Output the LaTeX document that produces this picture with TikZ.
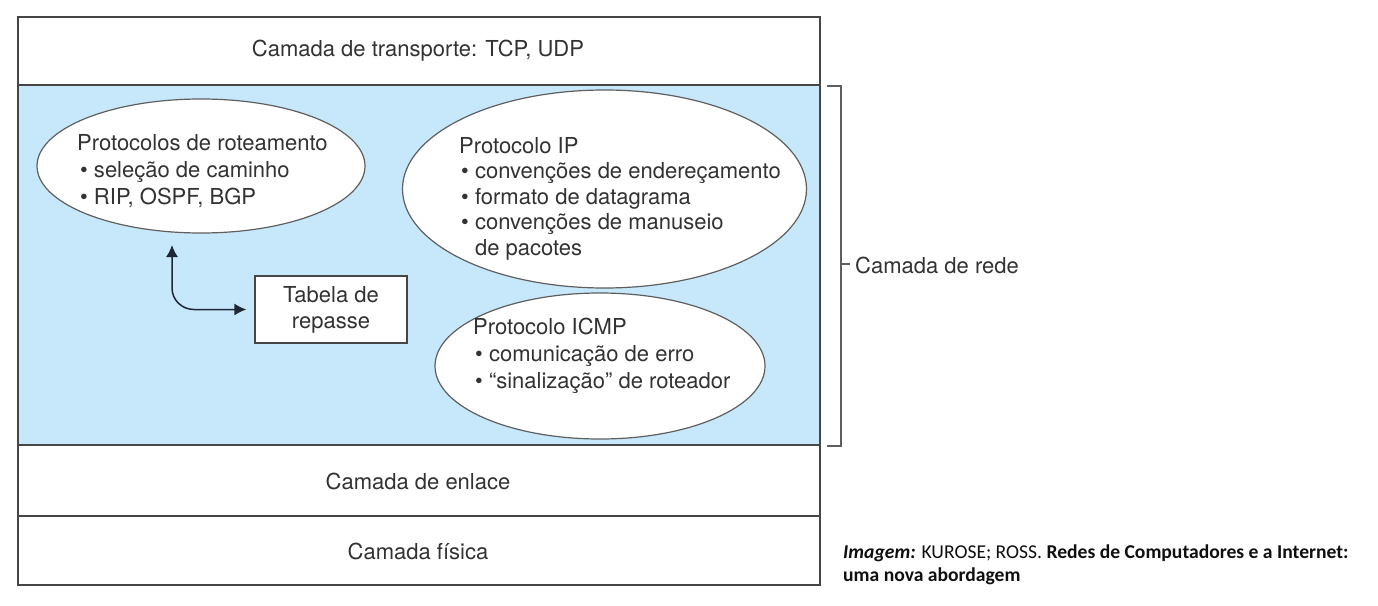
\documentclass[tikz,border=0pt]{standalone}
\usepackage{fontspec}
\setmainfont{TeX Gyre Heros}
\newfontfamily\citefont{Carlito}
\usetikzlibrary{shapes.geometric,arrows.meta}
\definecolor{netblue}{RGB}{198,232,250}
\definecolor{linegray}{RGB}{70,70,70}
\definecolor{ovalgray}{RGB}{95,95,95}
\definecolor{txt}{RGB}{50,50,50}
\definecolor{arrowc}{RGB}{30,40,55}
\definecolor{citec}{RGB}{15,15,15}
\begin{document}
\begin{tikzpicture}[x=1pt,y=-1pt,
  lbl/.style={inner sep=0pt, text=txt, font=\fontsize{22}{26}\selectfont},
  lineL/.style={lbl, anchor=base west},
  oval/.style={ellipse, draw=ovalgray, line width=1.2pt, fill=white, inner sep=0pt},
  frame/.style={draw=linegray, line width=1.5pt},
  brk/.style={draw=ovalgray, line width=1.2pt},
  conn/.style={draw=arrowc, line width=1.5pt, {Latex[length=12pt,width=12pt]}-{Latex[length=12pt,width=12pt]}},
  cite/.style={inner sep=0pt, text=citec, anchor=base west, font=\citefont\fontsize{19.6}{23}\selectfont}
]
\useasboundingbox (0,0) rectangle (1378,605);

% layers
\fill[netblue] (18,85) rectangle (820,445);
\draw[frame] (18,17) rectangle (820,585);
\draw[frame] (18,85) -- (820,85);
\draw[frame] (18,445) -- (820,445);
\draw[frame] (18,516) -- (820,516);

\node[lbl] (transp) at (418,51) {Camada de transporte: TCP, UDP};
\node[lbl] (enlace) at (418,481) {Camada de enlace};
\node[lbl] (fisica) at (418,551) {Camada física};

% ellipses
\node[oval, minimum width=328pt, minimum height=134pt] (rout) at (201,166) {};
\node[oval, minimum width=404pt, minimum height=198pt] (ip) at (604.5,189) {};
\node[oval, minimum width=330pt, minimum height=146pt] (icmp) at (600,366) {};

% routing text
\node[lineL] (r1) at (77,150) {Protocolos de roteamento};
\node[lineL] (r2) at (80,177) {\textbullet\ seleção de caminho};
\node[lineL] (r3) at (80,204) {\textbullet\ RIP, OSPF, BGP};

% IP text
\node[lineL] (i1) at (459,153) {Protocolo IP};
\node[lineL] (i2) at (461,178.5) {\textbullet\ convenções de endereçamento};
\node[lineL] (i3) at (461,204) {\textbullet\ formato de datagrama};
\node[lineL] (i4) at (461,229.5) {\textbullet\ convenções de manuseio};
\node[lineL] (i5) at (461,255) {\phantom{\textbullet\ }de pacotes};

% ICMP text
\node[lineL] (c1l) at (473,334) {Protocolo ICMP};
\node[lineL] (c2l) at (475,361) {\textbullet\ comunicação de erro};
\node[lineL] (c3l) at (475,388) {\textbullet\ “sinalização” de roteador};

% forwarding table
\node[lbl, draw=linegray, line width=1.3pt, fill=white, minimum width=152pt, minimum height=67pt, align=center] (tab) at (331,309.5) {Tabela de\\repasse};

% arrow
\coordinate (rtip) at (172,245);
\draw[conn] (rtip) -- (172,288) to[out=-90,in=180] (194,309.5) -- ([xshift=-8pt]tab.west);

% bracket
\draw[brk] (827,86) -- (841,86) -- (841,446) -- (827,446);
\coordinate (tick) at (841,264);
\node[lbl, anchor=west] (rede) at (855,265) {Camada de rede};
\draw[brk] (tick) -- (850,264);

% citation
\node[cite] (cit1) at (843,558) {\textbf{\textit{Imagem:}} KUROSE; ROSS. \textbf{Redes de Computadores e a Internet:}};
\node[cite] (cit2) at (843,581) {\textbf{uma nova abordagem}};
\end{tikzpicture}
\end{document}
